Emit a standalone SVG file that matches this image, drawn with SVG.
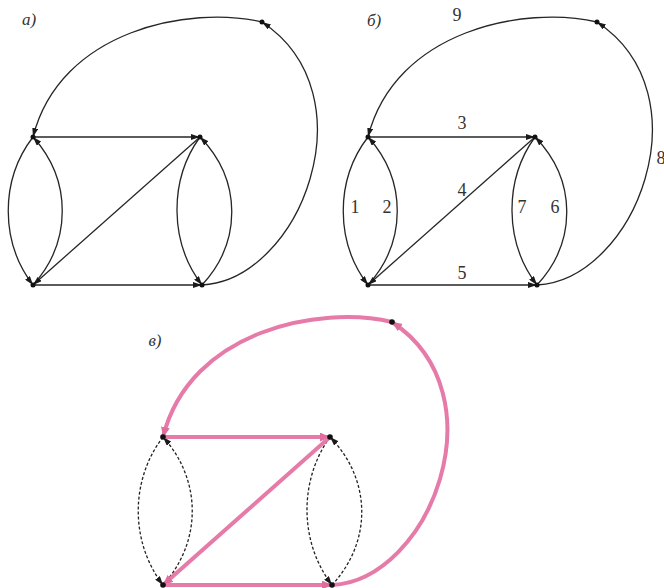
<svg xmlns="http://www.w3.org/2000/svg" width="664" height="588" viewBox="0 0 664 588">
<style>
.e{fill:none;stroke:#262626;stroke-width:1.3}
.ea{fill:none;stroke:#262626;stroke-width:1.3;marker-end:url(#ah)}
.d{fill:none;stroke:#222;stroke-width:1.3;stroke-dasharray:3 2;marker-end:url(#ah)}
.p{fill:none;stroke:#e67aa8;stroke-width:4;stroke-linecap:round;marker-end:url(#ph)}
.n{fill:#111}
.t{font-family:"Liberation Serif",serif;font-size:18px;fill:#333;text-anchor:middle}
.pl{font-family:"Liberation Serif",serif;font-size:17px;font-style:italic;fill:#333;text-anchor:middle}
</style>
<defs>
<marker id="ah" markerUnits="userSpaceOnUse" markerWidth="10" markerHeight="6" refX="9" refY="3" orient="auto"><path d="M0,0 L9,3 L0,6 z" fill="#1a1a1a"/></marker>
<marker id="ph" markerUnits="userSpaceOnUse" markerWidth="12" markerHeight="9" refX="10" refY="4.5" orient="auto"><path d="M0,0 L10,4.5 L0,9 z" fill="#e06d9e"/></marker>
</defs>

<!-- Panel a -->
<g id="panel-a">
<g id="a-edges">
<path class="ea" d="M33,137 C0,180 0,242 33,285"/>
<path class="ea" d="M33,285 C72,242 72,180 33,137"/>
<path class="ea" d="M33,137 L200,137"/>
<path class="ea" d="M200,137 L33,285"/>
<path class="ea" d="M33,285 L202,285"/>
<path class="ea" d="M202,285 C242,242 242,180 200,137"/>
<path class="ea" d="M200,137 C169,180 169,242 202,285"/>
<path class="ea" d="M202,285 C300,280 372,95 262,22"/>
<path class="ea" d="M262,22 C190,5 60,30 33,137"/>
</g>
<g id="a-n1"><circle class="n" cx="33" cy="137" r="2.5"/></g>
<g id="a-n2"><circle class="n" cx="33" cy="285" r="2.5"/></g>
<g id="a-n3"><circle class="n" cx="200" cy="137" r="2.5"/></g>
<g id="a-n4"><circle class="n" cx="202" cy="285" r="2.5"/></g>
<g id="a-n5"><circle class="n" cx="262" cy="22" r="2.5"/></g>
<text class="pl" x="29" y="25">а)</text>
</g>

<!-- Panel b -->
<g id="panel-b">
<g id="b-edges" transform="translate(335,0)">
<path class="ea" d="M33,137 C0,180 0,242 33,285"/>
<path class="ea" d="M33,285 C72,242 72,180 33,137"/>
<path class="ea" d="M33,137 L200,137"/>
<path class="ea" d="M200,137 L33,285"/>
<path class="ea" d="M33,285 L202,285"/>
<path class="ea" d="M202,285 C242,242 242,180 200,137"/>
<path class="ea" d="M200,137 C169,180 169,242 202,285"/>
<path class="ea" d="M202,285 C300,280 372,95 262,22"/>
<path class="ea" d="M262,22 C190,5 60,30 33,137"/>
</g>
<g id="b-n1"><circle class="n" cx="368" cy="137" r="2.5"/></g>
<g id="b-n2"><circle class="n" cx="368" cy="285" r="2.5"/></g>
<g id="b-n3"><circle class="n" cx="535" cy="137" r="2.5"/></g>
<g id="b-n4"><circle class="n" cx="537" cy="285" r="2.5"/></g>
<g id="b-n5"><circle class="n" cx="597" cy="22" r="2.5"/></g>
<text class="pl" x="374" y="26">б)</text>
<text class="t" x="355" y="213">1</text>
<text class="t" x="387" y="213">2</text>
<text class="t" x="462" y="129">3</text>
<text class="t" x="462" y="196">4</text>
<text class="t" x="462" y="279">5</text>
<text class="t" x="555" y="213">6</text>
<text class="t" x="522" y="213">7</text>
<text class="t" x="661" y="164">8</text>
<text class="t" x="457" y="21">9</text>
</g>

<!-- Panel c -->
<g id="panel-c">
<g id="c-edges" transform="translate(130,300)">
<path class="d" d="M33,137 C0,180 0,242 33,285"/>
<path class="d" d="M33,285 C72,242 72,180 33,137"/>
<path class="d" d="M202,285 C242,242 242,180 200,137"/>
<path class="d" d="M200,137 C169,180 169,242 202,285"/>
<path class="p" d="M33,137 L200,137"/>
<path class="p" d="M200,137 L33,285"/>
<path class="p" d="M33,285 L202,285"/>
<path class="p" d="M202,285 C300,280 372,95 262,22"/>
<path class="p" d="M262,22 C190,5 60,30 33,137"/>
</g>
<g id="c-n1"><circle class="n" cx="163" cy="437" r="2.8"/></g>
<g id="c-n2"><circle class="n" cx="163" cy="585" r="2.8"/></g>
<g id="c-n3"><circle class="n" cx="330" cy="437" r="2.8"/></g>
<g id="c-n4"><circle class="n" cx="332" cy="585" r="2.8"/></g>
<g id="c-n5"><circle class="n" cx="392" cy="322" r="2.8"/></g>
<text class="pl" x="155" y="346">в)</text>
</g>
</svg>
